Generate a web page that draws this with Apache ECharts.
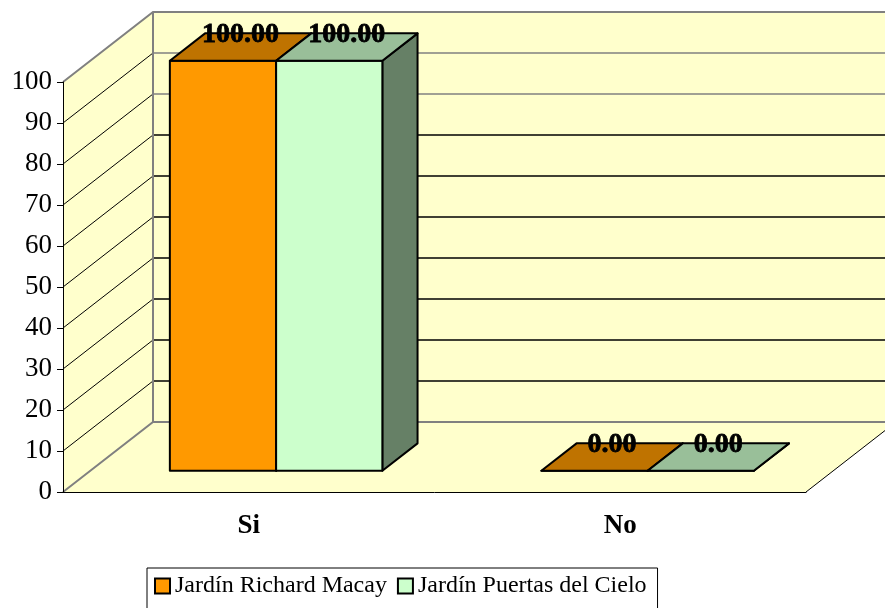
<!DOCTYPE html>
<html>
<head>
<meta charset="utf-8">
<script src="https://cdn.jsdelivr.net/npm/echarts@6/dist/echarts.min.js"></script>
<style>
  html, body { margin: 0; padding: 0; background: #fff; }
  #chart { width: 885px; height: 608px; }
</style>
</head>
<body>
<div id="chart"></div>
<script>
var categories = ['Si', 'No'];
var seriesNames = ['Jardín Richard Macay', 'Jardín Puertas del Cielo'];
var richardMacay = [100, 0];
var puertasCielo = [100, 0];
var yTicks = [0, 10, 20, 30, 40, 50, 60, 70, 80, 90, 100];

var FONT = '"Liberation Serif", "Times New Roman", serif';
// fake 3d projection (pixels for full depth)
var DX = 90, DY = -70;
var F1 = 0.304, F2 = 0.695;   // bar front / back depth
var GAP = 0.214, BARW = 0.286; // inside category band
var frontColors = ['#FF9900', '#CCFFCC'];
var topColors = ['#BF7300', '#99BF99'];
var sideColors = ['#804D00', '#668066'];

function proj(x, y, f) {
	return [x + f * DX, y + f * DY];
}

function renderWalls(params, api) {
	var cs = params.coordSys;
	var x0 = cs.x, x1 = cs.x + cs.width, yT = cs.y, yB = cs.y + cs.height;
	var fill = '#FFFFCC', gray = '#808080';
	var children = [];
	// back wall
	children.push({type: 'polygon', shape: {points: [proj(x0, yT, 1), proj(x1, yT, 1), proj(x1, yB, 1), proj(x0, yB, 1)]},
		style: {fill: fill, stroke: null}});
	// side wall
	children.push({type: 'polygon', shape: {points: [[x0, yT], proj(x0, yT, 1), proj(x0, yB, 1), [x0, yB]]},
		style: {fill: fill, stroke: null}});
	// floor
	children.push({type: 'polygon', shape: {points: [[x0, yB], proj(x0, yB, 1), proj(x1, yB, 1), [x1, yB]]},
		style: {fill: fill, stroke: null}});
	// grid lines
	for (var i = 1; i < yTicks.length - 1; i++) {
		var y = api.coord([0, yTicks[i]])[1];
		children.push({type: 'line', shape: {x1: x0, y1: y, x2: x0 + DX, y2: y + DY}, style: {stroke: '#000', lineWidth: 1}});
		children.push({type: 'line', shape: {x1: x0 + DX, y1: y + DY, x2: x1 + DX, y2: y + DY},
			style: {stroke: yTicks[i] >= 80 ? gray : '#000', lineWidth: 1.5}});
	}
	// wall edges
	var b0 = proj(x0, yB, 1), t0 = proj(x0, yT, 1), b1 = proj(x1, yB, 1), t1 = proj(x1, yT, 1);
	children.push({type: 'polyline', shape: {points: [[x0, yT], t0, [t1[0] + 10, t1[1]]]}, style: {stroke: gray, lineWidth: 2, fill: null}});
	children.push({type: 'line', shape: {x1: t0[0], y1: t0[1], x2: b0[0], y2: b0[1]}, style: {stroke: gray, lineWidth: 2}});
	children.push({type: 'polyline', shape: {points: [[x0, yB], b0, [b1[0] + 10, b1[1]]]}, style: {stroke: gray, lineWidth: 2, fill: null}});
	children.push({type: 'line', shape: {x1: x1, y1: yB, x2: b1[0], y2: b1[1]}, style: {stroke: '#000', lineWidth: 1}});
	return {type: 'group', children: children};
}

function barRenderer(idx) {
	return function (params, api) {
		var cat = api.value(0), val = api.value(1);
		var top = api.coord([cat, val]);
		var base = api.coord([cat, 0]);
		var band = api.size([1, 0])[0];
		var L = top[0] - band / 2 + band * (GAP + idx * BARW);
		var R = L + band * BARW;
		var yT = top[1], yB = base[1];
		var line = {stroke: '#000', lineWidth: 2, lineJoin: 'round'};
		var front = {type: 'polygon', shape: {points: [proj(L, yT, F1), proj(R, yT, F1), proj(R, yB, F1), proj(L, yB, F1)]},
			style: Object.assign({fill: frontColors[idx]}, line)};
		var topFace = {type: 'polygon', shape: {points: [proj(L, yT, F1), proj(R, yT, F1), proj(R, yT, F2), proj(L, yT, F2)]},
			style: Object.assign({fill: topColors[idx]}, line)};
		var side = {type: 'polygon', shape: {points: [proj(R, yT, F1), proj(R, yT, F2), proj(R, yB, F2), proj(R, yB, F1)]},
			style: Object.assign({fill: sideColors[idx]}, line)};
		var lp = proj((L + R) / 2, yT, (F1 + F2) / 2);
		var label = {type: 'text', z2: 100, style: {text: val.toFixed(2), x: lp[0], y: proj(0, yT, F2)[1] + 1,
			textAlign: 'center', textVerticalAlign: 'middle', font: 'bold 28px ' + FONT, fill: '#000',
			stroke: '#000', lineWidth: 0.8}};
		return {type: 'group', children: [side, front, topFace, label]};
	};
}

function toData(values) {
	return values.map(function (v, i) { return [i, v]; });
}

var myChart = echarts.init(document.getElementById('chart'));
var option = {
	backgroundColor: '#fff',
	animation: false,
	grid: {left: 63, right: 79, top: 82, bottom: 116},
	legend: {
		data: [
			{name: seriesNames[0], itemStyle: {color: frontColors[0], borderColor: '#000', borderWidth: 2}},
			{name: seriesNames[1], itemStyle: {color: frontColors[1], borderColor: '#000', borderWidth: 2}}
		],
		left: 147, top: 568,
		icon: 'rect', itemWidth: 15, itemHeight: 15, itemGap: 10,
		padding: [6, 11, 14, 7],
		borderColor: '#000', borderWidth: 1, backgroundColor: '#fff',
		textStyle: {fontFamily: FONT, fontSize: 24, color: '#000'}
	},
	xAxis: {
		type: 'category', data: categories, z: 10,
		axisLine: {lineStyle: {color: '#000', width: 1}},
		axisTick: {length: 7, lineStyle: {color: '#000'}},
		axisLabel: {fontFamily: FONT, fontSize: 27, fontWeight: 'bold', color: '#000', margin: 21},
		splitLine: {show: false}
	},
	yAxis: {
		type: 'value', min: 0, max: 100, interval: 10, z: 10,
		axisLine: {show: true, lineStyle: {color: '#000', width: 1}},
		axisTick: {show: true, length: 6, lineStyle: {color: '#000'}},
		axisLabel: {fontFamily: FONT, fontSize: 27, color: '#000', margin: 11},
		splitLine: {show: false}
	},
	series: [
		{type: 'custom', name: 'walls', z: 1, renderItem: renderWalls, data: [[0, 0]], encode: {x: 0, y: 1}, silent: true},
		{type: 'custom', name: seriesNames[0], z: 2, renderItem: barRenderer(0), data: toData(richardMacay),
			encode: {x: 0, y: 1}, itemStyle: {color: frontColors[0]}},
		{type: 'custom', name: seriesNames[1], z: 2, renderItem: barRenderer(1), data: toData(puertasCielo),
			encode: {x: 0, y: 1}, itemStyle: {color: frontColors[1]}}
	]
};
myChart.setOption(option);
</script>
</body>
</html>
